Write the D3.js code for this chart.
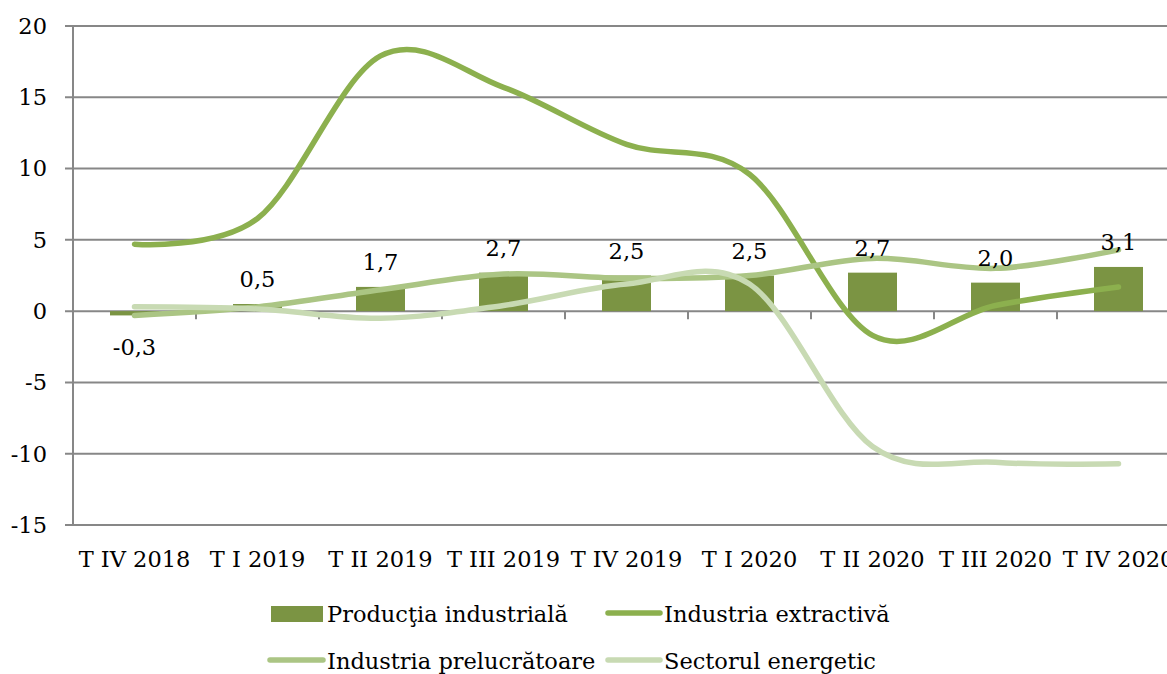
<!DOCTYPE html>
<html><head><meta charset="utf-8">
<script src="https://cdn.jsdelivr.net/npm/d3@7"></script>
<style>
body{margin:0;background:#fff;}
svg{display:block;font-family:"DejaVu Serif",serif;}
</style></head>
<body><svg id="c" width="1167" height="674"></svg>
<script>
const categories = ["T IV 2018","T I 2019","T II 2019","T III 2019","T IV 2019","T I 2020","T II 2020","T III 2020","T IV 2020"];
const productia = [-0.3,0.5,1.7,2.7,2.5,2.5,2.7,2.0,3.1];
const extractiva = [4.7,6.5,17.9,15.7,11.7,9.6,-1.7,0.4,1.7];
const prelucratoare = [-0.3,0.3,1.5,2.6,2.3,2.5,3.7,3.0,4.3];
const energetic = [0.3,0.15,-0.5,0.4,1.9,1.9,-9.5,-10.6,-10.7];
const barLabels = ["-0,3","0,5","1,7","2,7","2,5","2,5","2,7","2,0","3,1"];
const yTicks = [20,15,10,5,0,-5,-10,-15];
const seriesNames = ["Producţia industrială","Industria extractivă","Industria prelucrătoare","Sectorul energetic"];

const svg = d3.select("#c");
const x = d3.scaleBand().domain(categories).range([73, 73 + 9*123]).padding(0);
const y = d3.scaleLinear().domain([-15,20]).range([525, 26]);
const grid = "#878787";
const colBar = "#7B9443", colExt = "#8CB04E", colPre = "#ABC584", colEn = "#C8DAB3";
const fs = 22.5;

// gridlines
svg.append("g").selectAll("line").data(yTicks).join("line")
  .attr("x1", 65).attr("x2", 1180)
  .attr("y1", d => y(d)).attr("y2", d => y(d))
  .attr("stroke", grid).attr("stroke-width", 2);
// y axis line
svg.append("line").attr("x1",73).attr("x2",73).attr("y1",y(20)).attr("y2",y(-15))
  .attr("stroke", grid).attr("stroke-width", 2);
// y labels
svg.append("g").selectAll("text").data(yTicks).join("text")
  .attr("x", 47).attr("y", d => y(d)).attr("dy","0.35em")
  .attr("text-anchor","end").attr("font-size",fs).attr("fill","#000")
  .text(d => d);
// category tick marks on zero line
svg.append("g").selectAll("line").data(categories.slice(1)).join("line")
  .attr("x1", d => x(d)).attr("x2", d => x(d))
  .attr("y1", y(0)).attr("y2", y(0)+8)
  .attr("stroke", grid).attr("stroke-width", 2);
// x labels
svg.append("g").selectAll("text").data(categories).join("text")
  .attr("x", d => x(d) + x.bandwidth()/2).attr("y", 567)
  .attr("text-anchor","middle").attr("font-size",fs).attr("fill","#000")
  .text(d => d);

// bars
const bw = 49;
svg.append("g").selectAll("rect").data(productia).join("rect")
  .attr("x", (d,i) => x(categories[i]) + x.bandwidth()/2 - bw/2)
  .attr("width", bw)
  .attr("y", d => y(Math.max(0,d)))
  .attr("height", d => Math.abs(y(d) - y(0)))
  .attr("fill", colBar);

// lines
const line = d3.line()
  .x((d,i) => x(categories[i]) + x.bandwidth()/2)
  .y(d => y(d))
  .curve(d3.curveCardinal.tension(0));
[[extractiva,colExt],[prelucratoare,colPre],[energetic,colEn]].forEach(([data,c]) => {
  svg.append("path").attr("d", line(data)).attr("fill","none")
    .attr("stroke", c).attr("stroke-width", 5.5).attr("stroke-linecap","round").attr("stroke-linejoin","round");
});

// bar labels
svg.append("g").selectAll("text").data(productia).join("text")
  .attr("x", (d,i) => x(categories[i]) + x.bandwidth()/2)
  .attr("y", d => d >= 0 ? y(d) - 17 : y(d) + 40)
  .attr("text-anchor","middle").attr("font-size",fs).attr("fill","#000")
  .text((d,i) => barLabels[i]);

// legend
const lg = svg.append("g").attr("font-size",fs).attr("fill","#000");
lg.append("rect").attr("x",271).attr("y",606).attr("width",52).attr("height",16).attr("fill",colBar);
lg.append("text").attr("x",327).attr("y",622).text(seriesNames[0]);
lg.append("line").attr("x1",608).attr("x2",660).attr("y1",613).attr("y2",613)
  .attr("stroke",colExt).attr("stroke-width",5.5).attr("stroke-linecap","round");
lg.append("text").attr("x",664).attr("y",622).text(seriesNames[1]);
lg.append("line").attr("x1",270).attr("x2",323).attr("y1",660).attr("y2",660)
  .attr("stroke",colPre).attr("stroke-width",5.5).attr("stroke-linecap","round");
lg.append("text").attr("x",327).attr("y",669).text(seriesNames[2]);
lg.append("line").attr("x1",608).attr("x2",660).attr("y1",660).attr("y2",660)
  .attr("stroke",colEn).attr("stroke-width",5.5).attr("stroke-linecap","round");
lg.append("text").attr("x",664).attr("y",669).text(seriesNames[3]);
</script></body></html>
